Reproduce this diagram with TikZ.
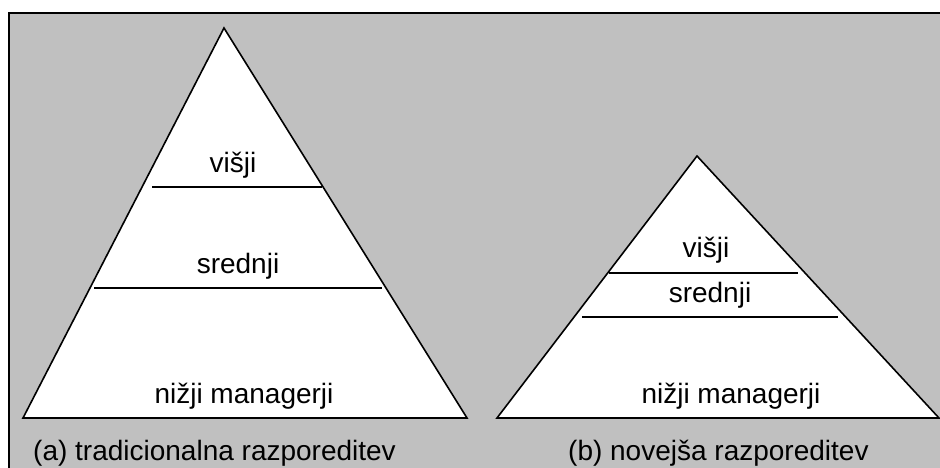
\documentclass[tikz,border=0pt]{standalone}
\usepackage{fontspec}
\setmainfont{Liberation Sans}
\definecolor{panel}{RGB}{192,192,192}
\begin{document}
\begin{tikzpicture}[x=1pt,y=-1pt,
  tier/.style={draw=black,line width=1.6pt,fill=white,line join=miter},
  divider/.style={draw=black,line width=1.6pt},
  lbl/.style={anchor=base,font=\fontsize{28}{32}\selectfont,inner sep=0pt},
  caption/.style={anchor=base west,font=\fontsize{28}{32}\selectfont,inner sep=0pt}]
\useasboundingbox (0,0) rectangle (940,468);
% grey panel, running off the right and bottom edges
\begin{scope}
  \clip (0,0) rectangle (940,468);
  \fill[white] (0,0) rectangle (940,468);
  \draw[fill=panel,line width=2.5pt] (9,13) rectangle (960,490);
\end{scope}

% (a) traditional pyramid
\draw[tier] (224,28) -- (467,418) -- (23,418) -- cycle;
\coordinate (a1l) at (152,187);
\coordinate (a1r) at (322,187);
\coordinate (a2l) at (94,288);
\coordinate (a2r) at (382,288);
\draw[divider] (a1l) -- (a1r);
\draw[divider] (a2l) -- (a2r);
\node[lbl] (avis) at (233,173) {višji};
\node[lbl] (asre) at (238,273) {srednji};
\node[lbl] (anis) at (244,403) {nižji managerji};
\node[caption] (acap) at (33,460) {(a) tradicionalna razporeditev};

% (b) newer pyramid
\draw[tier] (697,156) -- (939,418) -- (497,418) -- cycle;
\coordinate (b1l) at (609,273);
\coordinate (b1r) at (798,273);
\coordinate (b2l) at (582,317);
\coordinate (b2r) at (838,317);
\draw[divider] (b1l) -- (b1r);
\draw[divider] (b2l) -- (b2r);
\node[lbl] (bvis) at (706,257) {višji};
\node[lbl] (bsre) at (710,302) {srednji};
\node[lbl] (bnis) at (731,403) {nižji managerji};
\node[caption] (bcap) at (568,460) {(b) novejša razporeditev};
\end{tikzpicture}
\end{document}
